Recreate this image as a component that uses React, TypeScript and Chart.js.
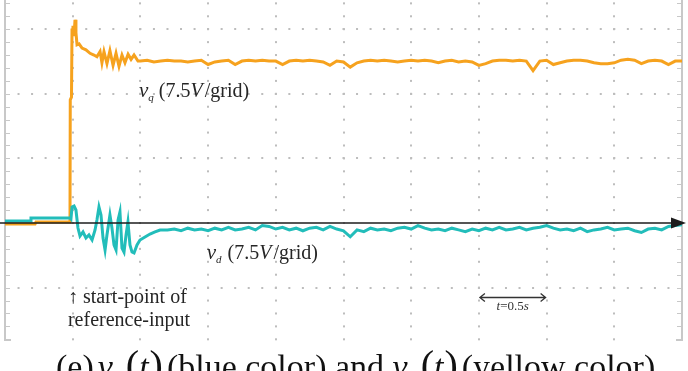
import React, { useEffect, useRef } from "react";
import { Chart, registerables } from "chart.js";

Chart.register(...registerables);

// ---- data (time in seconds, voltage in volts; 7.5 V per grid, 0.5 s per grid) ----
const vqTime = [
  0.0, 0.222, 0.229, 0.48, 0.482, 0.491, 0.495, 0.502, 0.51, 0.517, 0.524, 0.532, 0.547, 0.569, 0.598, 0.628,
  0.657, 0.679, 0.702, 0.716, 0.731, 0.753, 0.775, 0.798, 0.82, 0.842, 0.864, 0.886, 0.909, 0.931, 0.953, 0.982,
  1.0, 1.05, 1.1, 1.15, 1.2, 1.25, 1.3, 1.35, 1.4, 1.45, 1.5, 1.55, 1.6, 1.65, 1.7, 1.75, 1.8, 1.85, 1.9, 1.95,
  2.0, 2.05, 2.1, 2.15, 2.2, 2.25, 2.3, 2.35, 2.4, 2.45, 2.5, 2.55, 2.6, 2.65, 2.7, 2.75, 2.8, 2.85, 2.9, 2.95,
  3.0, 3.05, 3.1, 3.15, 3.2, 3.25, 3.3, 3.35, 3.4, 3.45, 3.5, 3.55, 3.6, 3.65, 3.7, 3.75, 3.8, 3.85, 3.9, 3.95,
  4.0, 4.05, 4.1, 4.15, 4.2, 4.25, 4.3, 4.35, 4.4, 4.45, 4.5, 4.55, 4.6, 4.65, 4.7, 4.75, 4.8, 4.85, 4.9, 4.95, 5.0,
];
const vqVolt = [
  -0.12, -0.12, 0.12, 0.12, 14.3, 14.6, 22.4, 22.9, 21.7, 23.6, 22.1, 20.7, 20.8, 20.3, 20.1, 19.7,
  19.5, 19.3, 19.9, 18.6, 19.9, 18.5, 20.0, 18.3, 19.7, 18.2, 19.5, 18.6, 19.6, 19.0, 19.5, 18.8,
  18.8, 18.9, 18.7, 18.8, 18.9, 18.8, 18.8, 18.7, 18.8, 18.9, 18.4, 18.7, 18.8, 18.9, 18.4, 18.8, 18.9, 18.8, 18.9, 18.8,
  18.8, 18.4, 18.8, 18.9, 18.8, 18.9, 18.8, 18.7, 18.3, 18.8, 18.7, 18.1, 18.6, 18.8, 18.9, 18.8, 18.9, 18.8, 18.7, 18.8,
  18.9, 18.8, 18.9, 18.8, 18.6, 18.8, 18.9, 18.7, 18.8, 18.7, 18.3, 18.5, 18.8, 18.9, 18.9, 18.8, 18.9, 18.8, 17.7, 18.8,
  18.9, 18.4, 18.6, 18.8, 18.9, 18.9, 18.8, 18.6, 18.5, 18.5, 18.6, 18.9, 19.0, 18.9, 18.5, 18.8, 18.9, 18.8, 18.4, 18.8, 18.8,
];

const vdTime = [
  0.0, 0.185, 0.192, 0.48, 0.487, 0.495, 0.51, 0.524, 0.539, 0.554, 0.576, 0.598, 0.62, 0.643, 0.665, 0.679,
  0.694, 0.709, 0.724, 0.739, 0.753, 0.775, 0.79, 0.805, 0.82, 0.835, 0.849, 0.864, 0.879, 0.894, 0.908, 0.923,
  0.938, 0.953, 0.975, 0.997, 1.034, 1.071, 1.108, 1.145,
  1.2, 1.25, 1.3, 1.35, 1.4, 1.45, 1.5, 1.55, 1.6, 1.65, 1.7, 1.75, 1.8, 1.85, 1.9, 1.95,
  2.0, 2.05, 2.1, 2.15, 2.2, 2.25, 2.3, 2.35, 2.4, 2.45, 2.5, 2.55, 2.6, 2.65, 2.7, 2.75, 2.8, 2.85, 2.9, 2.95,
  3.0, 3.05, 3.1, 3.15, 3.2, 3.25, 3.3, 3.35, 3.4, 3.45, 3.5, 3.55, 3.6, 3.65, 3.7, 3.75, 3.8, 3.85, 3.9, 3.95,
  4.0, 4.05, 4.1, 4.15, 4.2, 4.25, 4.3, 4.35, 4.4, 4.45, 4.5, 4.55, 4.6, 4.65, 4.7, 4.75, 4.8, 4.85, 4.9, 4.95, 5.0,
];
const vdVolt = [
  0.23, 0.23, 0.58, 0.58, 0.46, 1.86, 1.97, 1.51, -0.58, -1.51, -1.04, -1.74, -1.39, -1.97, -0.81, 0.35,
  1.86, 0.93, -1.74, -3.13, -1.39, 0.93, -0.58, -2.55, -3.13, 0.35, 1.28, -2.9, -3.37, -1.39, 0.12, -2.55,
  -3.37, -3.48, -2.55, -1.97, -1.62, -1.28, -1.04, -0.81,
  -0.8, -0.7, -0.9, -0.6, -0.8, -0.7, -0.9, -0.6, -0.8, -0.5, -0.8, -0.7, -0.5, -0.8, -0.3, -0.4,
  -0.7, -0.5, -0.8, -0.6, -0.9, -0.6, -0.5, -0.8, -0.4, -0.7, -0.9, -1.6, -0.8, -1.0, -0.6, -0.8, -0.7, -0.9, -0.6, -0.5,
  -0.7, -0.3, -0.6, -0.8, -0.7, -0.9, -0.6, -0.8, -1.0, -0.7, -0.9, -0.6, -0.8, -0.5, -0.8, -0.7, -0.5, -0.8, -0.6, -0.5,
  -0.3, -0.6, -0.8, -0.7, -0.9, -0.6, -1.0, -0.8, -0.7, -0.5, -0.8, -0.7, -0.6, -0.9, -1.1, -0.7, -0.6, -0.8, -0.4, -0.3, -0.2,
];

const xGridSeconds = [0.5, 1.0, 1.5, 2.0, 2.5, 3.0, 3.5, 4.0, 4.5];
const yGridVolts = [-7.5, 7.5, 15, 22.5];
const X_MIN = 0;
const X_MAX = 5;
const Y_MIN = -13.58;
const Y_MAX = 25.89;
const X_MINOR = 0.1;
const Y_MINOR = 1.5;

const ORANGE = "#F6A21E";
const TEAL = "#22BDBA";
const SERIF = '"Liberation Serif", "Times New Roman", serif';

type Run = { t: string; size: number; italic?: boolean; dy?: number; gap?: number };

function drawRuns(ctx: CanvasRenderingContext2D, x: number, y: number, runs: Run[], color: string) {
  let cx = x;
  ctx.fillStyle = color;
  ctx.textBaseline = "alphabetic";
  ctx.textAlign = "left";
  for (const r of runs) {
    ctx.font = `${r.italic ? "italic " : ""}${r.size}px ${SERIF}`;
    ctx.fillText(r.t, cx, y + (r.dy || 0));
    cx += ctx.measureText(r.t).width + (r.gap || 0);
  }
  return cx;
}

const scopePlugin = {
  id: "scopeFrame",
  beforeDatasetsDraw(chart: any) {
    const { ctx, chartArea: a, scales } = chart;
    const xs = scales.x;
    const ys = scales.y;
    ctx.save();
    // dotted grid
    ctx.fillStyle = "#bdbdbd";
    for (const gx of xGridSeconds) {
      const px = Math.round(xs.getPixelForValue(gx));
      const kMin = Math.ceil(Y_MIN / Y_MINOR);
      const kMax = Math.floor(Y_MAX / Y_MINOR);
      for (let k = kMin; k <= kMax; k++) {
        const py = ys.getPixelForValue(k * Y_MINOR);
        ctx.fillRect(px - 1, py - 1, 2, 2);
      }
    }
    for (const gy of yGridVolts) {
      const py = Math.round(ys.getPixelForValue(gy));
      const kMax = Math.round((X_MAX - X_MIN) / X_MINOR);
      for (let k = 1; k < kMax; k++) {
        const px = xs.getPixelForValue(X_MIN + k * X_MINOR);
        ctx.fillRect(px - 1, py - 1, 2, 2);
      }
    }
    // side frames with minor ticks
    ctx.strokeStyle = "#c8c8c8";
    ctx.lineWidth = 2;
    ctx.beginPath();
    ctx.moveTo(a.left, a.top);
    ctx.lineTo(a.left, a.bottom);
    ctx.lineTo(a.left + 6, a.bottom);
    ctx.moveTo(a.right, a.top);
    ctx.lineTo(a.right, a.bottom);
    ctx.lineTo(a.right - 6, a.bottom);
    ctx.stroke();
    ctx.lineWidth = 1;
    ctx.beginPath();
    const kMin = Math.ceil(Y_MIN / Y_MINOR);
    const kMax = Math.floor(Y_MAX / Y_MINOR);
    for (let k = kMin; k <= kMax; k++) {
      const py = Math.round(ys.getPixelForValue(k * Y_MINOR)) + 0.5;
      ctx.moveTo(a.left, py);
      ctx.lineTo(a.left + 5, py);
      ctx.moveTo(a.right, py);
      ctx.lineTo(a.right - 5, py);
    }
    ctx.stroke();
    ctx.restore();
  },
  afterDatasetsDraw(chart: any) {
    const { ctx, chartArea: a, scales } = chart;
    const xs = scales.x;
    const ys = scales.y;
    ctx.save();
    // time axis arrow
    const y0 = ys.getPixelForValue(0);
    ctx.strokeStyle = "#1c1c1c";
    ctx.fillStyle = "#1c1c1c";
    ctx.lineWidth = 1.6;
    ctx.beginPath();
    ctx.moveTo(0, y0);
    ctx.lineTo(a.right - 8, y0);
    ctx.stroke();
    ctx.beginPath();
    ctx.moveTo(a.right + 4, y0);
    ctx.lineTo(a.right - 11, y0 - 5.5);
    ctx.lineTo(a.right - 11, y0 + 5.5);
    ctx.closePath();
    ctx.fill();

    const txt = "#262626";
    // v_q label
    drawRuns(ctx, xs.getPixelForValue(0.99), ys.getPixelForValue(14.6), [
      { t: "v", size: 21, italic: true, gap: 0 },
      { t: "q", size: 11, italic: true, dy: 4, gap: 5 },
      { t: "(7.5", size: 20 },
      { t: "V", size: 20, italic: true, gap: 2 },
      { t: "/grid)", size: 20 },
    ], txt);
    // v_d label
    drawRuns(ctx, xs.getPixelForValue(1.49), ys.getPixelForValue(-4.2), [
      { t: "v", size: 21, italic: true, gap: 0 },
      { t: "d", size: 11, italic: true, dy: 4, gap: 6 },
      { t: "(7.5", size: 20 },
      { t: "V", size: 20, italic: true, gap: 2 },
      { t: "/grid)", size: 20 },
    ], txt);
    // start-point note
    drawRuns(ctx, xs.getPixelForValue(0.465), ys.getPixelForValue(-9.3), [
      { t: "\u2191 start-point of", size: 20 },
    ], txt);
    drawRuns(ctx, xs.getPixelForValue(0.465), ys.getPixelForValue(-12.0), [
      { t: "reference-input", size: 20 },
    ], txt);

    // t = 0.5 s double arrow
    const ax1 = xs.getPixelForValue(3.5);
    const ax2 = xs.getPixelForValue(4.0);
    const ay = Math.round(ys.getPixelForValue(-8.6)) + 0.5;
    ctx.strokeStyle = "#333";
    ctx.lineWidth = 1.3;
    ctx.beginPath();
    ctx.moveTo(ax1 + 1, ay);
    ctx.lineTo(ax2 - 1, ay);
    ctx.moveTo(ax1 + 6, ay - 4);
    ctx.lineTo(ax1 + 1, ay);
    ctx.lineTo(ax1 + 6, ay + 4);
    ctx.moveTo(ax2 - 6, ay - 4);
    ctx.lineTo(ax2 - 1, ay);
    ctx.lineTo(ax2 - 6, ay + 4);
    ctx.stroke();
    const parts: Run[] = [
      { t: "t", size: 13, italic: true },
      { t: "=0.5", size: 13 },
      { t: "s", size: 13, italic: true },
    ];
    let w = 0;
    for (const p of parts) {
      ctx.font = `${p.italic ? "italic " : ""}${p.size}px ${SERIF}`;
      w += ctx.measureText(p.t).width;
    }
    drawRuns(ctx, (ax1 + ax2) / 2 - w / 2, ys.getPixelForValue(-10.1), parts, "#333");

    // caption
    drawRuns(ctx, 56, 378, [
      { t: "(e)", size: 34, gap: 4 },
      { t: "v", size: 34, italic: true },
      { t: "d", size: 20, italic: true, dy: 7, gap: 3 },
      { t: "(", size: 40 },
      { t: "t", size: 34, italic: true, gap: 1 },
      { t: ")", size: 40, gap: 4 },
      { t: "(blue color) and ", size: 34 },
      { t: "v", size: 34, italic: true },
      { t: "q", size: 20, italic: true, dy: 7, gap: 3 },
      { t: "(", size: 40 },
      { t: "t", size: 34, italic: true, gap: 1 },
      { t: ")", size: 40, gap: 4 },
      { t: "(yellow color)", size: 34 },
    ], "#111");
    ctx.restore();
  },
};

export default function App() {
  const ref = useRef<HTMLCanvasElement | null>(null);
  useEffect(() => {
    if (!ref.current) return;
    const vq = vqTime.map((t, i) => ({ x: t, y: vqVolt[i] }));
    const vd = vdTime.map((t, i) => ({ x: t, y: vdVolt[i] }));
    const chart = new Chart(ref.current, {
      type: "line",
      data: {
        datasets: [
          { label: "vd", data: vd, borderColor: TEAL, borderWidth: 3, pointRadius: 0, tension: 0, fill: false },
          { label: "vq", data: vq, borderColor: ORANGE, borderWidth: 3, pointRadius: 0, tension: 0, fill: false },
        ],
      },
      options: {
        animation: false,
        responsive: false,
        maintainAspectRatio: false,
        layout: { padding: { left: 5, right: 6, top: 0, bottom: 31 } },
        plugins: { legend: { display: false }, tooltip: { enabled: false }, title: { display: false } },
        scales: {
          x: { type: "linear", min: X_MIN, max: X_MAX, display: false },
          y: { type: "linear", min: Y_MIN, max: Y_MAX, display: false },
        },
      },
      plugins: [scopePlugin],
    });
    return () => chart.destroy();
  }, []);
  return (
    <div style={{ position: "absolute", left: 0, top: 0, width: 688, height: 371, background: "#fff", overflow: "hidden" }}>
      <canvas ref={ref} width={688} height={371} style={{ display: "block", width: 688, height: 371 }} />
    </div>
  );
}
